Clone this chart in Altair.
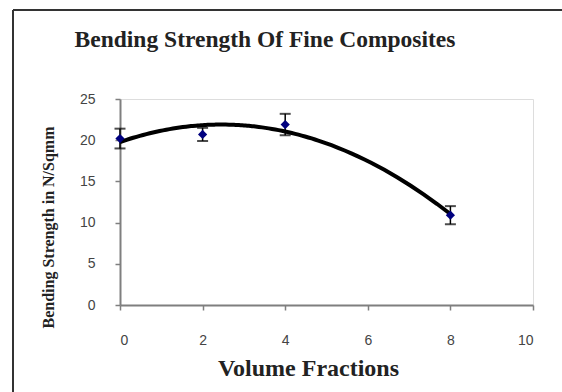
import altair as alt
import pandas as pd

volume = [0, 2, 4, 8]
strength = [20.2, 20.7, 21.9, 10.9]
err = [1.2, 0.8, 1.3, 1.1]
title_text = ["Bending Strength Of Fine Composites"]

df = pd.DataFrame({"x": volume, "y": strength, "e": err})
df["lo"] = df["y"] - df["e"]
df["hi"] = df["y"] + df["e"]

xs = alt.Scale(domain=[0, 10], nice=False)
ys = alt.Scale(domain=[0, 25], nice=False)

base = alt.Chart(df)

xaxis = alt.Axis(values=[0, 2, 4, 6, 8, 10], title="Volume Fractions", grid=False,
                 domainColor="#7f7f7f", domainWidth=2, tickColor="#7f7f7f", tickWidth=1.5,
                 tickSize=5, labelPadding=23, labelFont="Liberation Sans", labelFontSize=14,
                 labelColor="#444444", titleFont="Liberation Serif", titleFontSize=24,
                 titleFontWeight="bold", titleColor="#222222", titleX=188, titleY=63,
                 titleBaseline="middle", titleAlign="center")
yaxis = alt.Axis(values=[0, 5, 10, 15, 20, 25], title="Bending Strength in N/Sqmm", grid=False,
                 domainColor="#7f7f7f", domainWidth=2, tickColor="#7f7f7f", tickWidth=1.5,
                 tickSize=5, labelPadding=20, labelFont="Liberation Sans", labelFontSize=14,
                 labelColor="#444444", titleFont="Liberation Serif", titleFontSize=16,
                 titleFontWeight="bold", titleColor="#222222", titleX=-72, titleY=128,
                 titleAngle=-90, titleBaseline="middle", titleAlign="center")

trend = base.transform_regression("x", "y", method="poly", order=2, extent=[0, 8]).mark_line(
    color="black", strokeWidth=4
).encode(x=alt.X("x:Q", scale=xs, axis=xaxis), y=alt.Y("y:Q", scale=ys, axis=yaxis))

bars = base.mark_rule(color="black", strokeWidth=1.5).encode(
    x=alt.X("x:Q", scale=xs), y=alt.Y("lo:Q", scale=ys), y2="hi:Q")
caps_lo = base.mark_tick(color="black", thickness=2, size=11, orient="horizontal").encode(
    x=alt.X("x:Q", scale=xs), y=alt.Y("lo:Q", scale=ys))
caps_hi = base.mark_tick(color="black", thickness=2, size=11, orient="horizontal").encode(
    x=alt.X("x:Q", scale=xs), y=alt.Y("hi:Q", scale=ys))
pts = base.mark_point(shape="diamond", filled=True, color="#00007f", size=85, opacity=1).encode(
    x=alt.X("x:Q", scale=xs), y=alt.Y("y:Q", scale=ys))

border_top = alt.Chart(df).mark_rule(color="#333333", strokeWidth=2).encode(
    x=alt.value(-107), x2=alt.value(480), y=alt.value(-89))
border_left = alt.Chart(df).mark_rule(color="#333333", strokeWidth=2).encode(
    x=alt.value(-107), y=alt.value(-89), y2=alt.value(300))

title = alt.Chart(pd.DataFrame({"t": title_text})).mark_text(
    font="Liberation Serif", fontSize=23.5, fontWeight="bold", color="#222222",
    align="center", baseline="alphabetic"
).encode(x=alt.value(145), y=alt.value(-52), text="t:N")

chart = alt.layer(border_top, border_left, title, bars, caps_lo, caps_hi, trend, pts).properties(
    width=413, height=206,
    autosize=alt.AutoSizeParams(type="none"),
    padding={"left": 120, "top": 99, "right": 29, "bottom": 87},
).configure_view(stroke=None).configure(background="white")

chart.save("out.html", embed_options={"renderer": "svg", "actions": False})
